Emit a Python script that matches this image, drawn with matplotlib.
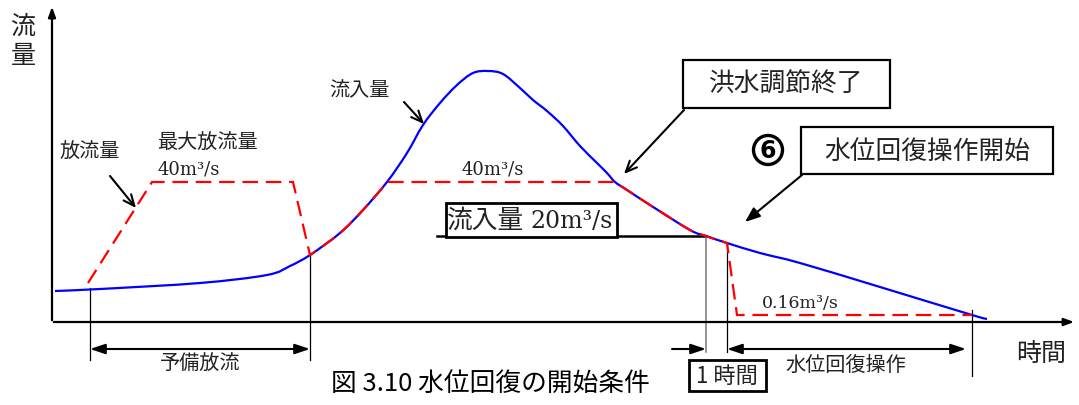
import numpy as np
import matplotlib
matplotlib.use("Agg")
import matplotlib.pyplot as plt
from matplotlib.patches import Rectangle, Circle, PathPatch
from matplotlib.path import Path

plt.rcParams['font.family'] = ['Noto Sans CJK JP', 'DejaVu Sans']

# ---- data (time, flow) in schematic units; origin at axes corner ----
inflow_t = [3, 48, 148, 215, 238, 258, 288, 311, 335, 355, 371, 388, 405,
            421, 436, 451, 468, 481, 495, 511, 528, 545, 555, 563, 575, 598,
            638, 654, 675, 708, 748, 828, 920, 935]
inflow_q = [31, 33, 39, 47, 56, 67, 89, 112, 140, 169, 197, 219, 237,
            249, 251, 248, 234, 222, 211, 196, 176, 159, 149, 140, 132, 117,
            92, 86, 79, 69, 59, 35, 7, 3]

outflow_t = [36, 100, 241, 258, 288, 311, 335, 563, 575, 598, 638, 654, 675, 685, 920]
outflow_q = [39, 140, 140, 67, 89, 112, 140, 140, 132, 117, 92, 86, 79, 7, 7]

q_threshold = 86          # 流入量 20m3/s level
t_pre_start, t_pre_end = 38, 258      # 予備放流
t_end_ctrl, t_start_rec, t_end_rec = 654, 675, 920

W, H = 1079, 405
X0, Y0 = 52, 322   # pixel location of origin


def P(px, py):
    return px - X0, Y0 - py


def smooth_segments(pts):
    """Catmull-Rom through pts, returned as Bezier (CURVE4) vertices/codes (no start point)."""
    verts, codes = [], []
    n = len(pts)
    for i in range(n - 1):
        p0 = np.array(pts[max(i - 1, 0)], float)
        p1 = np.array(pts[i], float)
        p2 = np.array(pts[i + 1], float)
        p3 = np.array(pts[min(i + 2, n - 1)], float)
        c1 = p1 + (p2 - p0) / 6.0
        c2 = p2 - (p3 - p1) / 6.0
        verts += [tuple(c1), tuple(c2), tuple(p2)]
        codes += [Path.CURVE4] * 3
    return verts, codes


fig = plt.figure(figsize=(W / 100, H / 100), dpi=100)
ax = fig.add_axes([0, 0, 1, 1])
ax.set_xlim(-X0, W - X0)
ax.set_ylim(Y0 - H, Y0)
ax.axis('off')

# axes with arrows
ax.annotate('', xy=P(52, 4), xytext=P(52, 323),
            arrowprops=dict(arrowstyle='-|>,head_length=0.6,head_width=0.22', color='black', lw=1.6))
ax.annotate('', xy=P(1077, 322), xytext=P(51, 322),
            arrowprops=dict(arrowstyle='-|>,head_length=0.6,head_width=0.22', color='black', lw=1.6))

# threshold line
ax.plot([P(437, 0)[0], t_end_ctrl], [q_threshold, q_threshold], color='black', lw=1.8, zorder=2)

# inflow path (smooth through data points)
in_pts = list(zip(inflow_t, inflow_q))
v, cds = smooth_segments(in_pts)
inflow_path = Path([in_pts[0]] + v, [Path.MOVETO] + cds)

# outflow path: straight where regulated, smooth where it follows inflow
in_idx = {p: k for k, p in enumerate(in_pts)}
out_pts = list(zip(outflow_t, outflow_q))


def follows(p, q):
    return p in in_idx and q in in_idx and in_idx[q] == in_idx[p] + 1


verts, codes = [out_pts[0]], [Path.MOVETO]
i = 0
while i < len(out_pts) - 1:
    if follows(out_pts[i], out_pts[i + 1]):
        j = i + 1
        while j + 1 < len(out_pts) and follows(out_pts[j], out_pts[j + 1]):
            j += 1
        a, b = in_idx[out_pts[i]], in_idx[out_pts[j]]
        lo = max(a - 1, 0)
        sv, sc = smooth_segments(in_pts[lo:b + 2])
        start = (a - lo) * 3
        sv = sv[start:start + (b - a) * 3]
        sc = sc[start:start + (b - a) * 3]
        verts += sv; codes += sc
        i = j
    else:
        verts.append(out_pts[i + 1]); codes.append(Path.LINETO)
        i += 1
outflow_path = Path(verts, codes)

ax.add_patch(PathPatch(inflow_path, facecolor='none', edgecolor='#0000ff', lw=1.6, zorder=3))
ax.add_patch(PathPatch(outflow_path, facecolor='none', edgecolor='#ff0000', lw=1.6,
                       linestyle=(0, (7, 3.5)), zorder=4))

# vertical guide lines
def vline(t, q_top, py_bottom, color='black', lw=0.9):
    ax.plot([t, t], [q_top, Y0 - py_bottom], color=color, lw=lw, zorder=2)

vline(t_pre_start, 34, 360)
vline(t_pre_end, 67, 360)
vline(t_end_ctrl, 86, 352, color='#777777', lw=1.1)
vline(t_start_rec, 79, 352)
vline(t_end_rec, 12, 376)

# double / single arrows
dbl = dict(arrowstyle='<|-|>,head_length=0.9,head_width=0.3', color='black', lw=1.5,
           shrinkA=0, shrinkB=0)
ax.annotate('', xy=(t_pre_start, Y0 - 349), xytext=(t_pre_end, Y0 - 349), arrowprops=dbl)
ax.annotate('', xy=(t_start_rec, Y0 - 349), xytext=(P(966, 0)[0], Y0 - 349), arrowprops=dbl)
ax.annotate('', xy=(t_end_ctrl, Y0 - 349), xytext=(P(672, 0)[0], Y0 - 349),
            arrowprops=dict(arrowstyle='-|>,head_length=0.9,head_width=0.3', color='black',
                            lw=1.5, shrinkA=0, shrinkB=0))

# pointer arrows
opn = dict(arrowstyle='->,head_length=0.8,head_width=0.35', color='black', lw=1.5,
           shrinkA=0, shrinkB=0)
ax.annotate('', xy=P(424, 124), xytext=P(404, 102), arrowprops=opn)
ax.annotate('', xy=P(136, 208), xytext=P(110, 176), arrowprops=opn)
ax.annotate('', xy=P(624, 174), xytext=P(684, 110), arrowprops=opn)
ax.annotate('', xy=P(745, 222), xytext=P(802, 175),
            arrowprops=dict(arrowstyle='-|>,head_length=0.9,head_width=0.35', color='black',
                            lw=1.5, shrinkA=0, shrinkB=0))

# boxes
def box(x1, y1, x2, y2, lw=1.6):
    (bx, by) = P(x1, y2)
    ax.add_patch(Rectangle((bx, by), x2 - x1, y2 - y1, fill=True, facecolor='white',
                           edgecolor='black', lw=lw, zorder=5))

box(446, 203, 617, 237, lw=2.0)
box(683, 60, 890, 108)
box(801, 127, 1053, 174)
box(689, 360, 766, 391, lw=2.0)

c = '#222222'
def txt(px, py, s, size, ha='left', va='center', **kw):
    ax.text(*P(px, py), s, fontsize=size, ha=ha, va=va, color=kw.pop('color', c), zorder=6, **kw)

txt(23, 27, '流', 18, ha='center')
txt(23, 56, '量', 18, ha='center')
txt(329, 91, '流入量', 14.5)
txt(59, 152, '放流量', 14.5)
txt(157, 143, '最大放流量', 14.5)
txt(157, 170, '40m³/s', 13, family=['DejaVu Serif'])
txt(461, 170, '40m³/s', 13, family=['DejaVu Serif'])
txt(447, 221, '流入量', 18.5)
txt(530, 221, '20m³/s', 17, family=['DejaVu Serif'])
txt(786, 85, '洪水調節終了', 18.5, ha='center')
txt(927, 152, '水位回復操作開始', 18.5, ha='center')
# circled 6
ax.add_patch(Circle(P(768, 150), 14.5, facecolor='white', edgecolor='black', lw=2.4, zorder=6))
txt(768, 151, '6', 17, ha='center', fontweight='bold', color='black', family=['DejaVu Sans'])
txt(762, 304, '0.16m³/s', 12.5, family=['DejaVu Serif'])
txt(1041, 354, '時間', 18, ha='center')
txt(200, 364, '予備放流', 14.5, ha='center')
txt(846, 365, '水位回復操作', 14.5, ha='center')
txt(727, 376, '1 時間', 16, ha='center')
txt(490, 384, '図 3.10 水位回復の開始条件', 18.5, ha='center', color='black')

fig.savefig('out.png', dpi=100)
